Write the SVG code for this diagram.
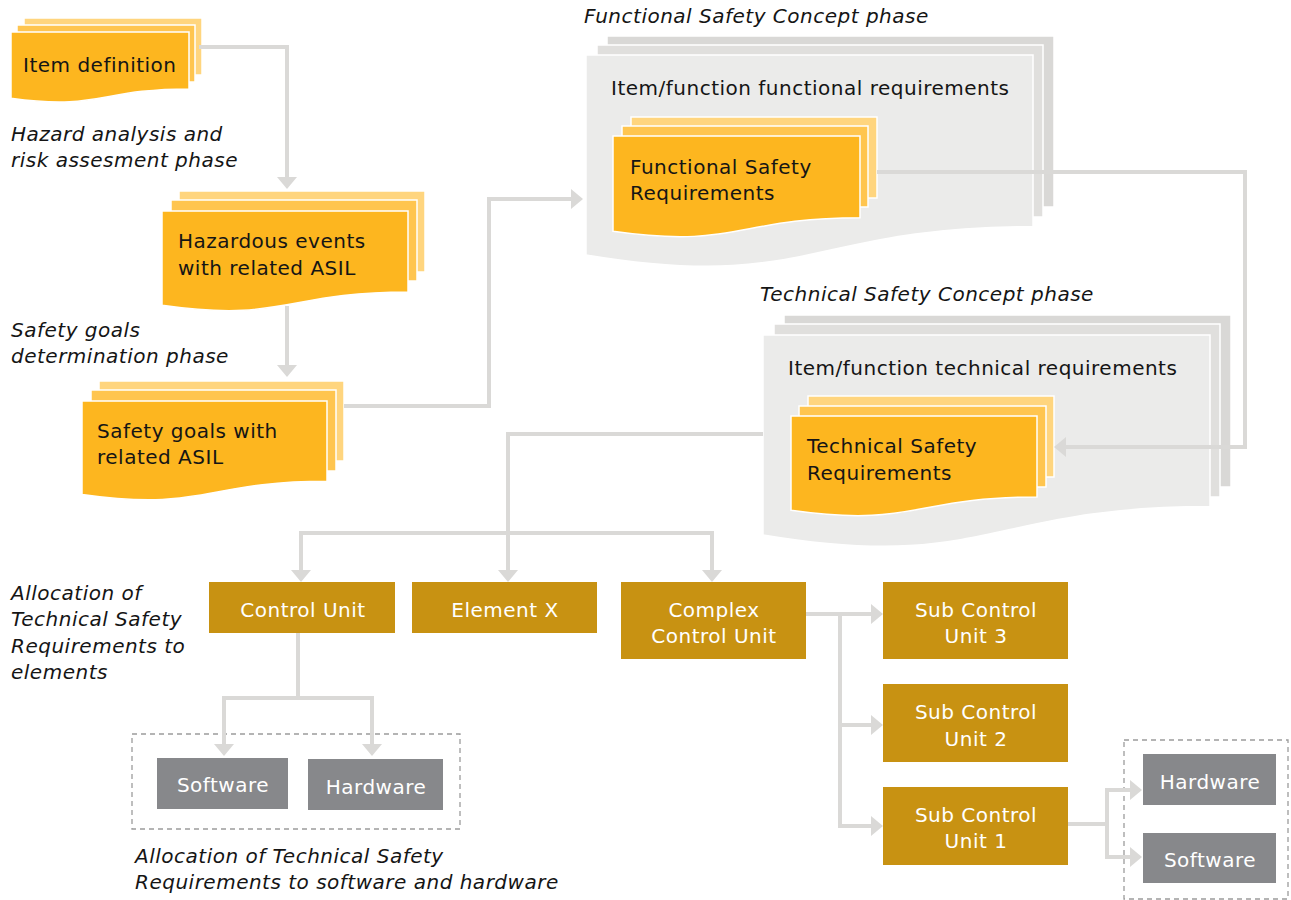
<svg xmlns="http://www.w3.org/2000/svg" width="1291" height="900" viewBox="0 0 1291 900">
  <style>
    text { font-family: "DejaVu Sans", "Liberation Sans", sans-serif; font-size: 20px; letter-spacing: 0.5px; fill: #151515; }
    .phase { font-style: italic; }
    .box-label { fill: #FFFFFF; text-anchor: middle; }
    .doc-front { fill: #FDB61F; stroke: #FFFFFF; stroke-width: 1.5; }
    .doc-mid { fill: #FFC54F; stroke: #FFFFFF; stroke-width: 1.5; }
    .doc-back { fill: #FFD57E; stroke: #FFFFFF; stroke-width: 1.5; }
    .grey-front { fill: #EBEBEA; stroke: #FFFFFF; stroke-width: 1.5; }
    .grey-mid { fill: #E0DFDD; stroke: #FFFFFF; stroke-width: 1.5; }
    .grey-back { fill: #D9D8D6; stroke: #FFFFFF; stroke-width: 1.5; }
    .element { fill: #C89212; }
    .sw-hw { fill: #87888B; }
    .group-frame { fill: none; stroke: #9C9C9C; stroke-width: 1.3; stroke-dasharray: 5 4; }
    .link { fill: none; stroke: #DAD9D7; stroke-width: 4; }
  </style>
  <defs>
    <marker id="arrow" markerUnits="userSpaceOnUse" markerWidth="14" markerHeight="20" refX="6" refY="10" orient="auto-start-reverse">
      <path d="M0,0 L12,10 L0,20 Z" fill="#DAD9D7"/>
    </marker>
  </defs>

  <rect width="1291" height="900" fill="#FFFFFF"/>

  <!-- phase captions -->
  <g id="captions">
    <text class="phase" x="11" y="141">Hazard analysis and</text>
    <text class="phase" x="11" y="167">risk assesment phase</text>
    <text class="phase" x="11" y="337">Safety goals</text>
    <text class="phase" x="11" y="363">determination phase</text>
    <text class="phase" x="584" y="23">Functional Safety Concept phase</text>
    <text class="phase" x="760" y="301">Technical Safety Concept phase</text>
    <text class="phase" x="11" y="600">Allocation of</text>
    <text class="phase" x="11" y="626">Technical Safety</text>
    <text class="phase" x="11" y="653">Requirements to</text>
    <text class="phase" x="11" y="679">elements</text>
    <text class="phase" x="135" y="863">Allocation of Technical Safety</text>
    <text class="phase" x="135" y="889">Requirements to software and hardware</text>
  </g>

  <!-- Functional Safety Concept stack -->
  <g id="functional-safety-concept">
    <rect class="grey-back" x="607" y="36" width="447" height="171"/>
    <rect class="grey-mid" x="597" y="45" width="446" height="172"/>
    <path class="grey-front" d="M586,55 H1033 V226.6 C809.5,226.6 809.5,292 586,254.9 Z"/>
    <text x="611" y="95">Item/function functional requirements</text>
  </g>

  <!-- Technical Safety Concept stack -->
  <g id="technical-safety-concept">
    <rect class="grey-back" x="784" y="315" width="447" height="172"/>
    <rect class="grey-mid" x="774" y="324" width="446" height="173"/>
    <path class="grey-front" d="M763,335 H1210 V506.6 C986.5,506.6 986.5,572 763,534.9 Z"/>
    <text x="788" y="375">Item/function technical requirements</text>
  </g>

  <!-- document stacks -->
  <g id="item-definition">
    <rect class="doc-back" x="24" y="18" width="178" height="57"/>
    <rect class="doc-mid" x="17" y="25" width="178" height="57"/>
    <path class="doc-front" d="M11,32 H189 V88.9 C100,88.9 100,110.6 11,98.3 Z"/>
    <text x="23" y="72">Item definition</text>
  </g>

  <g id="hazardous-events">
    <rect class="doc-back" x="179" y="191" width="246" height="81"/>
    <rect class="doc-mid" x="171" y="200" width="246" height="81"/>
    <path class="doc-front" d="M162,211 H408 V292 C285,292 285,322.9 162,305.3 Z"/>
    <text x="178" y="248">Hazardous events</text>
    <text x="178" y="275">with related ASIL</text>
  </g>

  <g id="safety-goals">
    <rect class="doc-back" x="99" y="381" width="245" height="80"/>
    <rect class="doc-mid" x="91" y="390" width="245" height="81"/>
    <path class="doc-front" d="M82,401 H327 V481.2 C204.5,481.2 204.5,511.8 82,494.4 Z"/>
    <text x="97" y="438">Safety goals with</text>
    <text x="97" y="464">related ASIL</text>
  </g>

  <g id="functional-safety-requirements">
    <rect class="doc-back" x="631" y="117" width="246" height="81"/>
    <rect class="doc-mid" x="622" y="126" width="246" height="81"/>
    <path class="doc-front" d="M613,136 H860 V217.8 C736.5,217.8 736.5,249 613,231.3 Z"/>
    <text x="630" y="174">Functional Safety</text>
    <text x="630" y="200">Requirements</text>
  </g>

  <g id="technical-safety-requirements">
    <rect class="doc-back" x="808" y="396" width="246" height="81"/>
    <rect class="doc-mid" x="799" y="406" width="247" height="81"/>
    <path class="doc-front" d="M791,416 H1037 V497 C914,497 914,527.9 791,510.3 Z"/>
    <text x="807" y="453">Technical Safety</text>
    <text x="807" y="480">Requirements</text>
  </g>

  <!-- dashed frames around software / hardware allocations -->
  <g id="allocation-frames">
    <rect class="group-frame" x="132" y="734" width="328" height="95"/>
    <rect class="group-frame" x="1124" y="740" width="164" height="159"/>
  </g>

  <!-- elements -->
  <g id="control-unit">
    <rect class="element" x="209" y="582" width="186" height="51"/>
    <text class="box-label" x="303" y="617">Control Unit</text>
  </g>
  <g id="element-x">
    <rect class="element" x="412" y="582" width="185" height="51"/>
    <text class="box-label" x="505" y="617">Element X</text>
  </g>
  <g id="complex-control-unit">
    <rect class="element" x="621" y="582" width="185" height="77"/>
    <text class="box-label" x="714" y="617">Complex</text>
    <text class="box-label" x="714" y="643">Control Unit</text>
  </g>
  <g id="sub-control-unit-3">
    <rect class="element" x="883" y="582" width="185" height="77"/>
    <text class="box-label" x="976" y="617">Sub Control</text>
    <text class="box-label" x="976" y="643">Unit 3</text>
  </g>
  <g id="sub-control-unit-2">
    <rect class="element" x="883" y="684" width="185" height="78"/>
    <text class="box-label" x="976" y="719">Sub Control</text>
    <text class="box-label" x="976" y="746">Unit 2</text>
  </g>
  <g id="sub-control-unit-1">
    <rect class="element" x="883" y="787" width="185" height="78"/>
    <text class="box-label" x="976" y="822">Sub Control</text>
    <text class="box-label" x="976" y="848">Unit 1</text>
  </g>

  <!-- software / hardware -->
  <g id="cu-software">
    <rect class="sw-hw" x="157" y="758" width="131" height="51"/>
    <text class="box-label" x="223" y="792">Software</text>
  </g>
  <g id="cu-hardware">
    <rect class="sw-hw" x="308" y="759" width="135" height="51"/>
    <text class="box-label" x="376" y="794">Hardware</text>
  </g>
  <g id="scu1-hardware">
    <rect class="sw-hw" x="1143" y="754" width="133" height="51"/>
    <text class="box-label" x="1210" y="789">Hardware</text>
  </g>
  <g id="scu1-software">
    <rect class="sw-hw" x="1143" y="833" width="133" height="50"/>
    <text class="box-label" x="1210" y="867">Software</text>
  </g>

  <!-- connectors -->
  <g id="connectors">
    <path class="link" d="M199,47 H287 V183" marker-end="url(#arrow)"/>
    <path class="link" d="M287,306 V371" marker-end="url(#arrow)"/>
    <path class="link" d="M344,406 H489 V199 H577" marker-end="url(#arrow)"/>
    <path class="link" d="M877,172 H1245 V447 H1060" marker-end="url(#arrow)"/>
    <path class="link" d="M763,434 H508 V576" marker-end="url(#arrow)"/>
    <path class="link" d="M301,576 V533 H712 V576" marker-start="url(#arrow)" marker-end="url(#arrow)"/>
    <path class="link" d="M298,633 V698"/>
    <path class="link" d="M224,750 V698 H372 V750" marker-start="url(#arrow)" marker-end="url(#arrow)"/>
    <path class="link" d="M806,614 H877" marker-end="url(#arrow)"/>
    <path class="link" d="M840,614 V826 H877" marker-end="url(#arrow)"/>
    <path class="link" d="M840,725 H877" marker-end="url(#arrow)"/>
    <path class="link" d="M1068,824 H1107"/>
    <path class="link" d="M1136,790 H1107 V857 H1136" marker-start="url(#arrow)" marker-end="url(#arrow)"/>
  </g>
</svg>
